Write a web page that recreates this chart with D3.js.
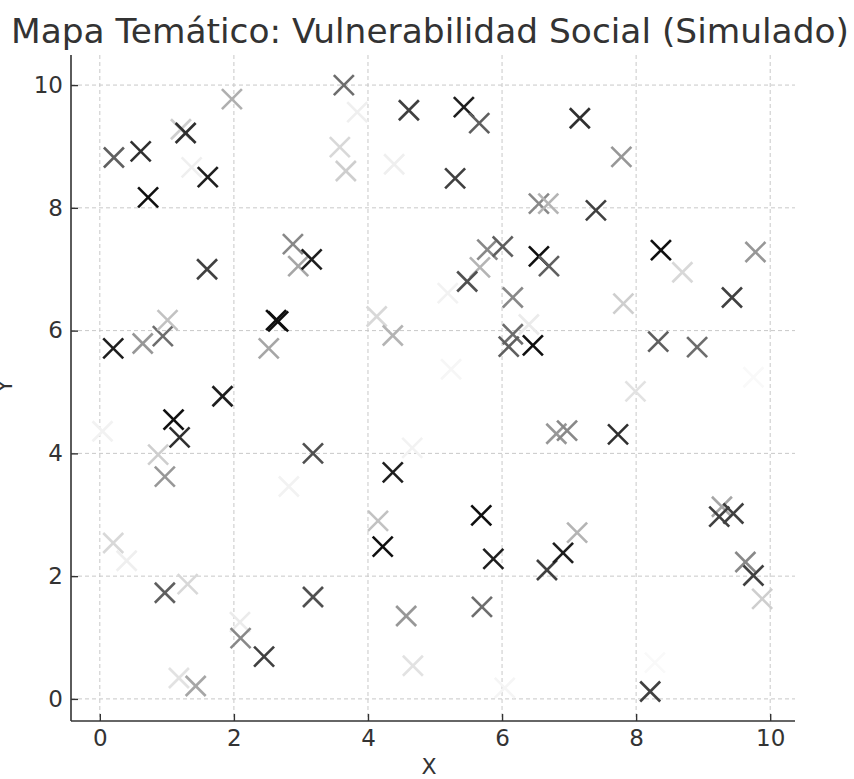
<!DOCTYPE html>
<html>
<head>
<meta charset="utf-8">
<script src="https://cdn.jsdelivr.net/npm/d3@7"></script>
<style>
  body { margin: 0; background: #fff; }
  svg { font-family: "DejaVu Sans", sans-serif; }
</style>
</head>
<body>
<svg width="854" height="779"></svg>
<script>
// points: x, y, and shade (0 = white, 1 = black)
var xs = [0.21, 0.61, 0.72, 1.21, 1.28, 1.37, 1.61, 1.97, 3.64, 3.84, 3.58, 3.67, 4.61, 4.39, 5.43, 5.66, 5.30, 7.16, 7.78, 7.40,
          6.55, 6.69, 5.78, 6.01, 6.55, 6.70, 5.67, 5.48, 2.88, 2.96, 3.16, 1.60, 8.37, 8.69, 9.78, 0.20, 0.64, 0.94, 1.01, 0.04,
          1.10, 1.19, 0.87, 0.97, 1.83, 2.63, 2.66, 2.52, 3.18, 2.82, 5.19, 6.16, 4.13, 4.37, 6.40, 6.16, 6.10, 6.46, 5.24, 6.81,
          6.97, 4.66, 4.37, 7.81, 9.43, 8.33, 8.91, 7.99, 9.75, 7.73, 0.20, 0.40, 0.97, 1.31, 3.18, 2.09, 2.10, 2.45, 1.18, 1.43,
          4.15, 4.22, 5.69, 5.87, 5.70, 4.57, 4.67, 6.04, 6.67, 6.91, 7.12, 9.28, 9.24, 9.45, 9.63, 9.75, 9.88, 8.28, 8.21];
var ys = [8.82, 8.92, 8.17, 9.28, 9.22, 8.66, 8.50, 9.77, 10.00, 9.56, 8.99, 8.60, 9.59, 8.71, 9.64, 9.38, 8.48, 9.46, 8.83, 7.96,
          8.07, 8.07, 7.32, 7.37, 7.21, 7.05, 7.03, 6.80, 7.41, 7.05, 7.16, 7.00, 7.31, 6.95, 7.28, 5.71, 5.79, 5.91, 6.17, 4.36,
          4.55, 4.26, 3.98, 3.62, 4.93, 6.17, 6.15, 5.71, 4.00, 3.46, 6.61, 6.54, 6.23, 5.92, 6.10, 5.94, 5.74, 5.76, 5.37, 4.32,
          4.37, 4.09, 3.69, 6.44, 6.54, 5.82, 5.73, 5.01, 5.24, 4.31, 2.54, 2.25, 1.73, 1.87, 1.66, 1.25, 0.99, 0.69, 0.34, 0.21,
          2.90, 2.48, 2.99, 2.28, 1.50, 1.35, 0.54, 0.18, 2.10, 2.38, 2.71, 3.13, 2.97, 3.02, 2.23, 2.01, 1.63, 0.59, 0.12];
var shade = [0.70, 0.85, 0.95, 0.30, 0.85, 0.12, 0.90, 0.42, 0.65, 0.12, 0.25, 0.30, 0.80, 0.12, 0.90, 0.70, 0.80, 0.85, 0.50, 0.80,
             0.55, 0.40, 0.55, 0.70, 0.95, 0.70, 0.40, 0.75, 0.55, 0.45, 0.90, 0.80, 0.95, 0.25, 0.50, 0.90, 0.50, 0.65, 0.35, 0.10,
             0.95, 0.85, 0.30, 0.50, 0.90, 0.95, 0.95, 0.45, 0.75, 0.10, 0.10, 0.55, 0.25, 0.40, 0.15, 0.65, 0.70, 0.95, 0.07, 0.50,
             0.55, 0.10, 0.90, 0.30, 0.80, 0.70, 0.65, 0.20, 0.05, 0.85, 0.25, 0.12, 0.70, 0.25, 0.75, 0.15, 0.55, 0.80, 0.20, 0.45,
             0.35, 0.95, 0.95, 0.90, 0.65, 0.50, 0.20, 0.08, 0.80, 0.90, 0.40, 0.45, 0.80, 0.80, 0.55, 0.80, 0.30, 0.05, 0.80];
var xTicks = [0, 2, 4, 6, 8, 10];
var yTicks = [0, 2, 4, 6, 8, 10];

var svg = d3.select('svg');
var plotLeft = 71, plotRight = 795, plotTop = 55, plotBottom = 721;

var x = d3.scaleLinear().domain([-0.43, 10.37]).range([plotLeft, plotRight]);
var y = d3.scaleLinear().domain([-0.36, 10.49]).range([plotBottom, plotTop]);

// dashed grid
var grid = svg.append("g");
grid.selectAll(".gx").data(xTicks).enter().append("line").attr("x1", function(d) { return x(d); }).attr("x2", function(d) { return x(d); })
    .attr("y1", plotTop).attr("y2", plotBottom).attr("stroke", "#c8c8c8").attr("stroke-width", 1).attr("stroke-dasharray", "4,3");
grid.selectAll(".gy").data(yTicks).enter().append("line").attr("y1", function(d) { return y(d); }).attr("y2", function(d) { return y(d); })
    .attr("x1", plotLeft).attr("x2", plotRight).attr("stroke", "#c8c8c8").attr("stroke-width", 1).attr("stroke-dasharray", "4,3");

// x markers
var pts = d3.range(xs.length);
var half = 10;
var marks = svg.append("g").selectAll("g").data(pts).enter().append("g")
    .attr("transform", function(i) { return "translate(" + x(xs[i]) + "," + y(ys[i]) + ")"; })
    .attr("stroke", function(i) { return d3.interpolateGreys(shade[i]); })
    .attr("stroke-width", 2.6);
marks.append("line").attr("x1", -half).attr("y1", -half).attr("x2", half).attr("y2", half);
marks.append("line").attr("x1", -half).attr("y1", half).attr("x2", half).attr("y2", -half);

// axes, ticks pointing inward
var xAxis = d3.axisBottom(x).tickValues(xTicks).tickSizeInner(-7).tickSizeOuter(0).tickPadding(9);
var yAxis = d3.axisLeft(y).tickValues(yTicks).tickSizeInner(-7).tickSizeOuter(0).tickPadding(8);

var gx = svg.append("g").attr("transform", "translate(0," + plotBottom + ")").call(xAxis);
var gy = svg.append("g").attr("transform", "translate(" + plotLeft + ",0)").call(yAxis);
[gx, gy].forEach(function(g) {
    g.select(".domain").attr("stroke", "#333").attr("stroke-width", 1.6);
    g.selectAll(".tick line").attr("stroke", "#333").attr("stroke-width", 1.4);
    g.selectAll(".tick text").attr("fill", "#333").style("font-size", "23px").style("font-family", "DejaVu Sans");
});
gx.select(".domain").attr("d", "M" + plotLeft + ",0H" + plotRight);
gy.select(".domain").attr("d", "M0," + plotBottom + "V" + plotTop);

svg.append("text").attr("x", (plotLeft + plotRight) / 2 - 4).attr("y", 774).attr("text-anchor", "middle")
    .attr("fill", "#333").style("font-size", "22px").text("X");
svg.append("text").attr("transform", "translate(12,386) rotate(-90)").attr("text-anchor", "middle")
    .attr("fill", "#333").style("font-size", "22px").text("Y");

svg.append("text").attr("x", 430).attr("y", 43).attr("text-anchor", "middle")
    .attr("fill", "#333").style("font-size", "33px")
    .attr("textLength", 838).attr("lengthAdjust", "spacingAndGlyphs")
    .text("Mapa Temático: Vulnerabilidad Social (Simulado)");
</script>
</body>
</html>
